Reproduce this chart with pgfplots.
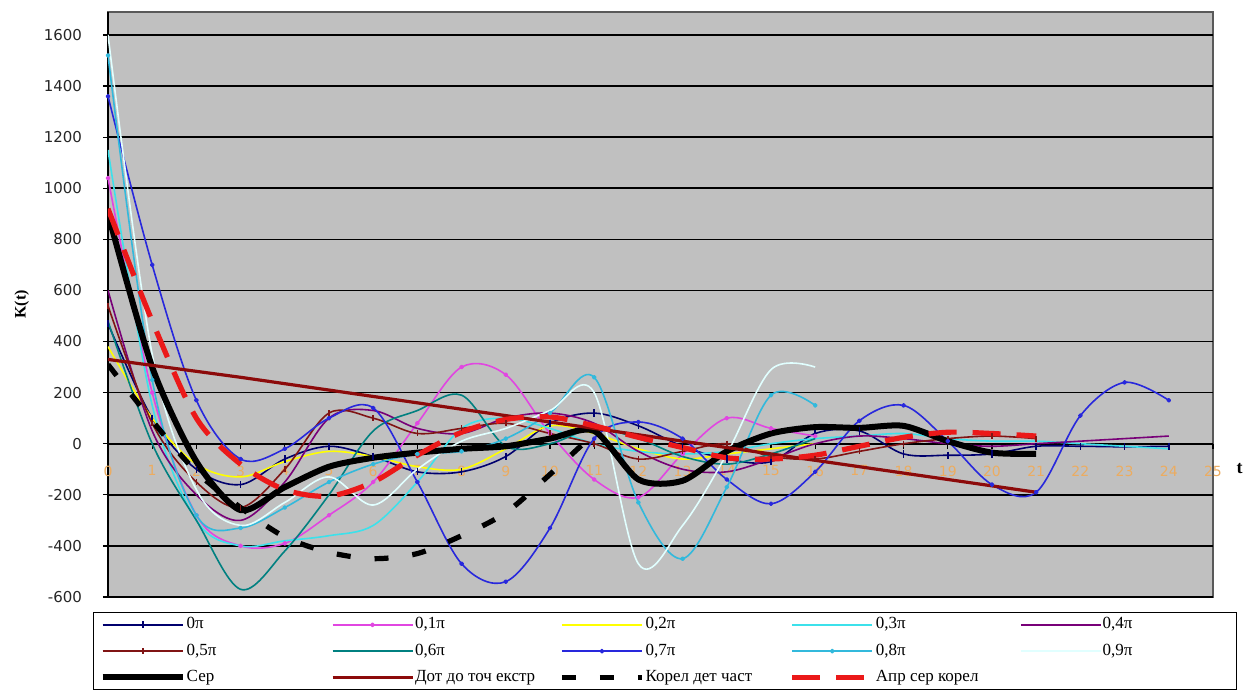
\documentclass[border=0pt]{standalone}
\usepackage{fontspec}
\setmainfont{Liberation Serif}
\newfontfamily\tickfont{DejaVu Sans}
\usepackage{pgfplots}
\pgfplotsset{compat=1.18}
\definecolor{plotgray}{RGB}{192,192,192}
\definecolor{xorange}{RGB}{236,172,96}
\definecolor{c0}{RGB}{0,0,110}
\definecolor{c1}{RGB}{225,70,225}
\definecolor{c2}{RGB}{255,255,0}
\definecolor{c3}{RGB}{60,225,235}
\definecolor{c4}{RGB}{120,0,120}
\definecolor{c5}{RGB}{128,20,20}
\definecolor{c6}{RGB}{0,128,128}
\definecolor{c7}{RGB}{40,40,220}
\definecolor{c8}{RGB}{50,185,220}
\definecolor{c9}{RGB}{225,255,255}
\definecolor{dotred}{RGB}{140,10,10}
\definecolor{aprred}{RGB}{235,25,25}
\newcommand{\legtxt}[1]{\makebox[62pt][l]{#1}}
\begin{document}
\begin{tikzpicture}
\begin{axis}[
  scale only axis, width=552.5pt, height=292.5pt,
  xmin=0, xmax=25, ymin=-600, ymax=1690,
  axis x line*=middle, axis y line*=left,
  hide obscured x ticks=false,
  axis background/.style={fill=plotgray, draw=gray!70!black, line width=0.6pt},
  xtick={0,...,25}, ytick={-600,-400,...,1600},
  ymajorgrids, major grid style={black, line width=0.8pt},
  tick align=outside, major tick length=2.5pt,
  tick style={black, line width=0.6pt},
  axis line style={black, line width=0.8pt},
  /pgf/number format/assume math mode=true,
  /pgf/number format/1000 sep={},
  yticklabel style={font=\tickfont\fontsize{7.5}{8}\selectfont, color=black!85, xshift=-7pt},
  xticklabel style={font=\tickfont\fontsize{7}{8}\selectfont, color=xorange, yshift=-5pt},
  ylabel={\textbf{K(t)}},
  ylabel style={at={(axis description cs:-0.078,0.5)}, anchor=center, font=\fontsize{8}{9}\selectfont},
  xlabel={\textbf{t}},
  xlabel style={at={(axis description cs:1.024,0.22)}, anchor=center, font=\fontsize{9}{10}\selectfont},
  legend columns=5,
  legend cell align=left,
  legend style={at={(axis description cs:-0.01357,-0.02564)}, anchor=north west,
    draw=black, line width=0.7pt, font=\fontsize{8.5}{10}\selectfont,
    inner xsep=3pt, inner ysep=0.5pt, row sep=2pt,
    /tikz/every odd column/.style={column sep=-1.5pt},
    /tikz/every even column/.style={column sep=8.1pt}},
  legend image code/.code={\draw[mark repeat=2,mark phase=2,#1] plot coordinates {(0pt,0pt) (20pt,0pt) (40pt,0pt)};},
  every axis plot/.append style={line join=round},
]
% 0pi
\addplot[c0, line width=0.8pt, smooth, tension=0.55, mark=|, mark size=1.8pt] coordinates {
(0,470)(1,100)(2,-100)(3,-160)(4,-60)(5,-10)(6,-50)(7,-110)(8,-110)(9,-50)(10,80)(11,120)(12,70)(13,-10)(14,-60)(15,-70)(16,40)(17,50)(18,-40)(19,-45)(20,-40)(21,-10)(22,-10)(23,-12)(24,-10)};
\addlegendentry{\legtxt{0π}}
% 0,1pi
\addplot[c1, line width=0.8pt, smooth, tension=0.55, mark=*, mark size=0.8pt] coordinates {
(0,1040)(1,200)(2,-280)(3,-400)(4,-390)(5,-280)(6,-150)(7,80)(8,300)(9,270)(10,40)(11,-140)(12,-210)(13,-40)(14,100)(15,60)(16,30)};
\addlegendentry{\legtxt{0,1π}}
% 0,2pi
\addplot[c2, line width=0.8pt, smooth, tension=0.55] coordinates {
(0,380)(1,100)(2,-80)(3,-130)(4,-70)(5,-30)(6,-50)(7,-90)(8,-100)(9,-20)(10,70)(11,40)(12,-20)(13,-60)(14,-40)(15,-20)(16,0)};
\addlegendentry{\legtxt{0,2π}}
% 0,3pi
\addplot[c3, line width=0.8pt, smooth, tension=0.55] coordinates {
(0,1150)(1,150)(2,-300)(3,-400)(4,-380)(5,-360)(6,-320)(7,-150)(8,60)(9,100)(10,60)(11,0)(12,-30)(13,-40)(14,-30)(15,0)(16,20)(17,30)(18,40)(19,20)(20,10)(21,10)(22,0)(23,-10)(24,-20)};
\addlegendentry{\legtxt{0,3π}}
% 0,4pi
\addplot[c4, line width=0.8pt, smooth, tension=0.55] coordinates {
(0,600)(1,50)(2,-200)(3,-300)(4,-150)(5,100)(6,130)(7,60)(8,40)(9,100)(10,120)(11,80)(12,-30)(13,-100)(14,-110)(15,-60)(16,0)(17,30)(18,20)(19,0)(20,-10)(21,0)(22,10)(23,20)(24,30)};
\addlegendentry{\legtxt{0,4π}}
% 0,5pi
\addplot[c5, line width=0.8pt, smooth, tension=0.55, mark=|, mark size=1.5pt] coordinates {
(0,540)(1,80)(2,-150)(3,-250)(4,-100)(5,120)(6,100)(7,40)(8,60)(9,80)(10,40)(11,0)(12,-60)(13,-30)(14,0)(15,-50)(16,-60)(17,-30)(18,0)(19,20)(20,30)(21,20)};
\addlegendentry{\legtxt{0,5π}}
% 0,6pi
\addplot[c6, line width=0.8pt, smooth, tension=0.55] coordinates {
(0,480)(1,0)(2,-300)(3,-570)(4,-420)(5,-200)(6,50)(7,130)(8,190)(9,-10)(10,0)(11,60)(12,20)(13,-50)(14,-80)(15,-40)(16,20)};
\addlegendentry{\legtxt{0,6π}}
% 0,7pi
\addplot[c7, line width=0.8pt, smooth, tension=0.55, mark=*, mark size=0.8pt] coordinates {
(0,1360)(1,700)(2,170)(3,-60)(4,-20)(5,100)(6,140)(7,-150)(8,-470)(9,-540)(10,-330)(11,20)(12,85)(13,20)(14,-140)(15,-235)(16,-110)(17,90)(18,150)(19,10)(20,-160)(21,-190)(22,110)(23,240)(24,170)};
\addlegendentry{\legtxt{0,7π}}
% 0,8pi
\addplot[c8, line width=0.8pt, smooth, tension=0.55, mark=*, mark size=0.8pt] coordinates {
(0,1520)(1,250)(2,-280)(3,-330)(4,-250)(5,-150)(6,-80)(7,-40)(8,-30)(9,20)(10,120)(11,260)(12,-230)(13,-450)(14,-170)(15,190)(16,150)};
\addlegendentry{\legtxt{0,8π}}
% 0,9pi
\addplot[c9, line width=0.8pt, smooth, tension=0.55] coordinates {
(0,1600)(1,350)(2,-180)(3,-320)(4,-230)(5,-130)(6,-240)(7,-100)(8,10)(9,60)(10,130)(11,200)(12,-470)(13,-320)(14,-40)(15,290)(16,300)};
\addlegendentry{\legtxt{0,9π}}
% Ser
\addplot[black, line width=3pt, smooth, tension=0.45] coordinates {
(0,900)(1,300)(2,-70)(3,-260)(4,-170)(5,-90)(6,-55)(7,-35)(8,-20)(9,-10)(10,20)(11,50)(12,-140)(13,-145)(14,-30)(15,40)(16,65)(17,62)(18,70)(19,10)(20,-35)(21,-40)};
\addlegendentry{\legtxt{Сер}}
% Dot do toch ekstr
\addplot[dotred, line width=1.6pt] coordinates {
(0,330)(3,260)(11,60)(21,-190)};
\addlegendentry{\legtxt{Дот до точ екстр}}
% Korel det chast
\addplot[black, line width=2.6pt, smooth, tension=0.5, dash pattern=on 7pt off 12pt] coordinates {
(0,310)(1,90)(2,-110)(3,-250)(4,-365)(5,-425)(6,-450)(7,-430)(8,-360)(9,-270)(10,-120)(11,40)};
\addlegendentry{\legtxt{Корел дет част}}
% Apr ser korel
\addplot[aprred, line width=2.6pt, smooth, tension=0.5, dash pattern=on 14pt off 8pt] coordinates {
(0,920)(1,480)(2,100)(3,-80)(4,-180)(5,-205)(6,-150)(7,-45)(8,45)(9,95)(10,105)(11,70)(12,25)(13,-15)(14,-55)(15,-60)(16,-45)(17,-10)(18,25)(19,45)(20,40)(21,30)};
\addlegendentry{\legtxt{Апр сер корел}}
\end{axis}
\pgfresetboundingbox
\path[use as bounding box] (-54pt,-46.5pt) rectangle (571pt,298.5pt);
\end{tikzpicture}
\end{document}
